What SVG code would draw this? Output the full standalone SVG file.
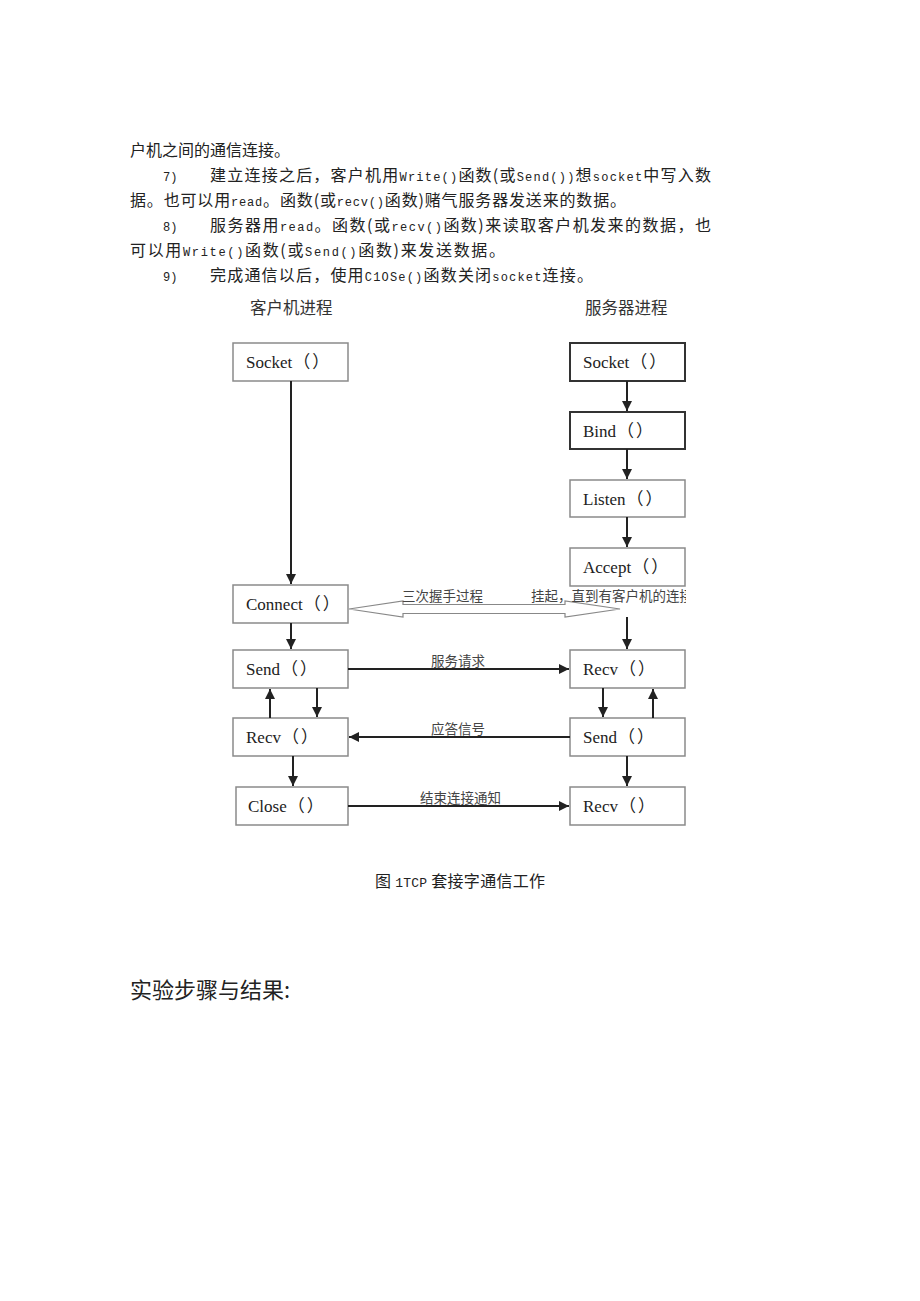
<svg xmlns="http://www.w3.org/2000/svg" width="920" height="1301" viewBox="0 0 920 1301">
<style>
.p{font-family:"Noto Sans CJK SC",sans-serif;font-size:16px;fill:#222}
.m{font-family:"Liberation Mono","Noto Sans CJK SC",monospace;font-size:12px}
.h{font-family:"Noto Sans CJK SC",sans-serif;font-size:16.5px;fill:#333}
.b{fill:#fff;stroke:#8a8a8a;stroke-width:1.5}
.bd{fill:#fff;stroke:#333;stroke-width:2}
.t{font-family:"Liberation Serif","Noto Sans CJK SC",serif;font-size:17px;fill:#222}
.l{font-family:"Noto Sans CJK SC",sans-serif;font-size:13.5px;fill:#444}
.c{stroke:#222;stroke-width:2;fill:none}
</style>
<defs>
<marker id="a" viewBox="0 0 10 10" refX="10" refY="5" markerWidth="5" markerHeight="5" orient="auto" markerUnits="strokeWidth"><path d="M0,0L10,5L0,10z" fill="#222"/></marker>
<clipPath id="cl"><rect x="520" y="580" width="166" height="30"/></clipPath>
</defs>
<rect width="920" height="1301" fill="#fff"/>
<g id="para">
<text class="p" x="130" y="156">户机之间的通信连接。</text>
<text class="p" x="163" y="181"><tspan class="m">7)</tspan></text>
<text class="p" x="210" y="181" textLength="501" lengthAdjust="spacing">建立连接之后，客户机用<tspan class="m">Write()</tspan>函数(或<tspan class="m">Send())</tspan>想<tspan class="m">socket</tspan>中写入数</text>
<text class="p" x="130" y="206" textLength="496" lengthAdjust="spacing">据。也可以用<tspan class="m">read</tspan>。函数(或<tspan class="m">recv()</tspan>函数)赌气服务器发送来的数据。</text>
<text class="p" x="163" y="231"><tspan class="m">8)</tspan></text>
<text class="p" x="210" y="231" textLength="501" lengthAdjust="spacing">服务器用<tspan class="m">read</tspan>。函数(或<tspan class="m">recv()</tspan>函数)来读取客户机发来的数据，也</text>
<text class="p" x="130" y="256" textLength="375" lengthAdjust="spacing">可以用<tspan class="m">Write()</tspan>函数(或<tspan class="m">Send()</tspan>函数)来发送数据。</text>
<text class="p" x="163" y="281"><tspan class="m">9)</tspan></text>
<text class="p" x="210" y="281" textLength="383" lengthAdjust="spacing">完成通信以后，使用<tspan class="m">C1OSe()</tspan>函数关闭<tspan class="m">socket</tspan>连接。</text>
</g>
<g id="titles">
<text class="h" x="250" y="314">客户机进程</text>
<text class="h" x="585" y="314">服务器进程</text>
</g>
<g id="c-socket"><rect class="b" x="233" y="343" width="115" height="38"/><text class="t" x="246" y="368">Socket<tspan dx="1">（</tspan><tspan dx="2">）</tspan></text></g>
<g id="c-connect"><rect class="b" x="233" y="585" width="115" height="38"/><text class="t" x="246" y="610">Connect<tspan dx="1">（</tspan><tspan dx="2">）</tspan></text></g>
<g id="c-send"><rect class="b" x="233" y="650" width="115" height="38"/><text class="t" x="246" y="675">Send<tspan dx="1">（</tspan><tspan dx="2">）</tspan></text></g>
<g id="c-recv"><rect class="b" x="233" y="718" width="115" height="38"/><text class="t" x="246" y="743">Recv<tspan dx="1">（</tspan><tspan dx="2">）</tspan></text></g>
<g id="c-close"><rect class="b" x="236" y="787" width="112" height="38"/><text class="t" x="248" y="812">Close<tspan dx="1">（</tspan><tspan dx="2">）</tspan></text></g>
<g id="s-socket"><rect class="bd" x="570" y="343" width="115" height="38"/><text class="t" x="583" y="368">Socket<tspan dx="1">（</tspan><tspan dx="2">）</tspan></text></g>
<g id="s-bind"><rect class="bd" x="570" y="412" width="115" height="37"/><text class="t" x="583" y="437">Bind<tspan dx="1">（</tspan><tspan dx="2">）</tspan></text></g>
<g id="s-listen"><rect class="b" x="570" y="480" width="115" height="37"/><text class="t" x="583" y="505">Listen<tspan dx="1">（</tspan><tspan dx="2">）</tspan></text></g>
<g id="s-accept"><rect class="b" x="570" y="548" width="115" height="38"/><text class="t" x="583" y="573">Accept<tspan dx="1">（</tspan><tspan dx="2">）</tspan></text></g>
<g id="s-recv1"><rect class="b" x="570" y="650" width="115" height="38"/><text class="t" x="583" y="675">Recv<tspan dx="1">（</tspan><tspan dx="2">）</tspan></text></g>
<g id="s-send"><rect class="b" x="570" y="718" width="115" height="38"/><text class="t" x="583" y="743">Send<tspan dx="1">（</tspan><tspan dx="2">）</tspan></text></g>
<g id="s-recv2"><rect class="b" x="570" y="787" width="115" height="38"/><text class="t" x="583" y="812">Recv<tspan dx="1">（</tspan><tspan dx="2">）</tspan></text></g>
<g id="connectors">
<line class="c" x1="291" y1="381" x2="291" y2="584" marker-end="url(#a)"/>
<line class="c" x1="291" y1="623" x2="291" y2="649" marker-end="url(#a)"/>
<line class="c" x1="317" y1="688" x2="317" y2="717" marker-end="url(#a)"/>
<line class="c" x1="270" y1="718" x2="270" y2="689" marker-end="url(#a)"/>
<line class="c" x1="293" y1="756" x2="293" y2="786" marker-end="url(#a)"/>
<line class="c" x1="627" y1="381" x2="627" y2="411" marker-end="url(#a)"/>
<line class="c" x1="627" y1="449" x2="627" y2="479" marker-end="url(#a)"/>
<line class="c" x1="627" y1="517" x2="627" y2="547" marker-end="url(#a)"/>
<line class="c" x1="627" y1="617" x2="627" y2="649" marker-end="url(#a)"/>
<line class="c" x1="603" y1="688" x2="603" y2="717" marker-end="url(#a)"/>
<line class="c" x1="653" y1="718" x2="653" y2="689" marker-end="url(#a)"/>
<line class="c" x1="627" y1="756" x2="627" y2="786" marker-end="url(#a)"/>
<line class="c" x1="348" y1="669" x2="569" y2="669" marker-end="url(#a)"/>
<line class="c" x1="570" y1="737" x2="349" y2="737" marker-end="url(#a)"/>
<line class="c" x1="348" y1="806" x2="569" y2="806" marker-end="url(#a)"/>
<path d="M349,609L403,601L403,604.5L565,604.5L565,601L620,609L565,617L565,613.5L403,613.5L403,617Z" fill="#fff" stroke="#888" stroke-width="1.2"/>
<text class="l" x="402" y="601">三次握手过程</text>
<text class="l" x="531" y="601" clip-path="url(#cl)">挂起，直到有客户机的连接</text>
<text class="l" x="431" y="666">服务请求</text>
<text class="l" x="431" y="734">应答信号</text>
<text class="l" x="420" y="803">结束连接通知</text>
</g>
<g id="caption">
<text class="p" x="375" y="887" textLength="170" lengthAdjust="spacing">图 <tspan class="m" style="font-size:13px">1TCP</tspan> 套接字通信工作</text>
<text class="p" x="130" y="998" style="font-size:22px">实验步骤与结果:</text>
</g>
</svg>
